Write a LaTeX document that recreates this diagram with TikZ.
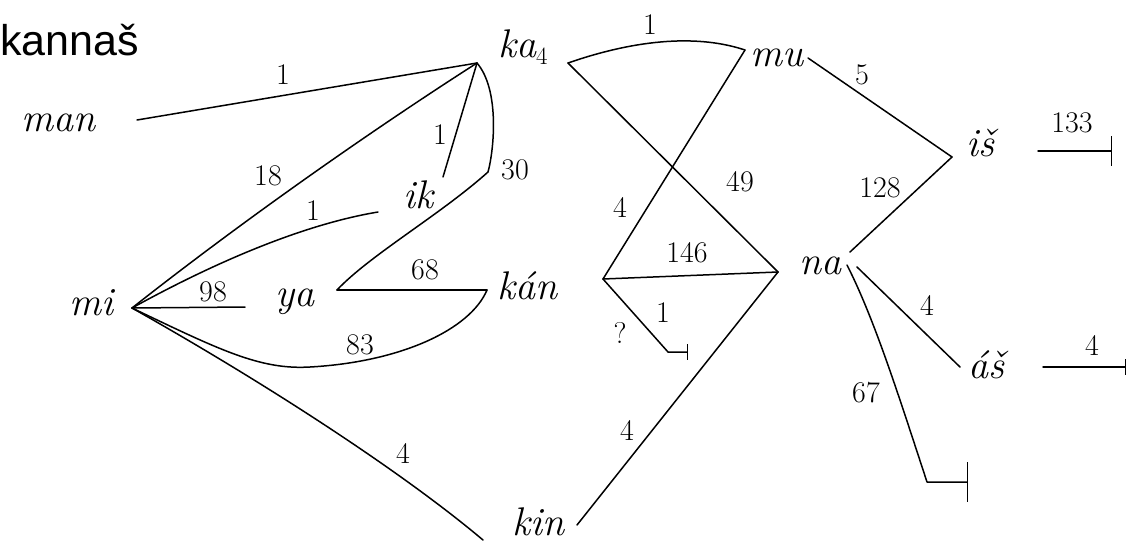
\documentclass[tikz,border=0pt]{standalone}
\usepackage{fontspec}
\newfontfamily\headfont{Liberation Sans}
\usetikzlibrary{arrows.meta}
\tikzset{
  word/.style={font=\fontsize{40}{40}\selectfont\itshape, inner sep=0pt},
  num/.style={font=\fontsize{30}{30}\selectfont, inner sep=0pt},
  edge/.style={line width=1.5pt, line cap=round, line join=round},
  stub/.style={edge, -{Bar[width=#1, line width=1.5pt]}},
}
\begin{document}
\begin{tikzpicture}[x=1pt, y=-1pt]
    \useasboundingbox (0,0) rectangle (1127,552);
    % title
    \node[font=\headfont\fontsize{43}{43}\selectfont, anchor=base west, inner sep=0pt] (title) at (0,55) {kannaš};
    % words
    \node[word] (man) at (58,123) {man};
    \node[word] (mi) at (91,303) {mi};
    \node[word] (ik) at (418,195) {ik};
    \node[word] (ya) at (295,302) {ya};
    \node[word] (ka) at (523,47) {ka$_4$};
    \node[word] (kan) at (527,286) {kán};
    \node[word] (mu) at (777,58) {mu};
    \node[word] (na) at (820,266) {na};
    \node[word] (is) at (980,143) {iš};
    \node[word] (as) at (986,365) {áš};
    \node[word] (kin) at (538,522) {kin};
    % ports
    \coordinate (man-p) at (137,120);
    \coordinate (mi-p) at (132,308);
    \coordinate (ka-l) at (477,63);
    \coordinate (ka-r) at (568,63);
    \coordinate (ik-l) at (378,212);
    \coordinate (ik-r) at (443,177);
    \coordinate (ya-l) at (337,290);
    \coordinate (ya-e) at (245,307);
    \coordinate (kan-l) at (487,290);
    \coordinate (kan-r) at (603,279);
    \coordinate (mu-l) at (745,50);
    \coordinate (mu-r) at (808,58);
    \coordinate (na-l) at (778,272);
    \coordinate (na-r) at (850,252);
    \coordinate (na-s) at (857,267);
    \coordinate (na-b) at (847,265);
    \coordinate (is-l) at (952,157);
    \coordinate (as-l) at (960,367);
    \coordinate (kin-l) at (483,540);
    \coordinate (kin-r) at (577,525);
    % free ends
    \coordinate (kan-e) at (668,352);
    \coordinate (kan-t) at (688,352);
    \coordinate (is-s) at (1038,151);
    \coordinate (is-t) at (1112,151);
    \coordinate (as-s) at (1043,367);
    \coordinate (as-t) at (1126,367);
    \coordinate (na-e) at (927,482);
    \coordinate (na-t) at (968,482);
    % left part
    \draw[edge] (man-p) -- (ka-l);
    \draw[edge] (mi-p) .. controls (250,215) and (380,125) .. (ka-l);
    \draw[edge] (mi-p) .. controls (210,265) and (300,225) .. (ik-l);
    \draw[edge] (ik-r) -- (ka-l);
    \draw[edge] (ka-l) .. controls (500,90) and (494,150) .. (488,172)
        .. controls (440,215) and (370,255) .. (ya-l);
    \draw[edge] (ya-l) -- (kan-l);
    \draw[edge] (mi-p) -- (ya-e);
    \draw[edge] (mi-p) .. controls (220,350) and (260,370) .. (310,367)
        .. controls (400,362) and (470,330) .. (kan-l);
    \draw[edge] (mi-p) .. controls (260,380) and (400,470) .. (kin-l);
    % middle part
    \draw[edge] (ka-r) .. controls (640,38) and (700,35) .. (mu-l);
    \draw[edge] (ka-r) -- (na-l);
    \draw[edge] (kan-r) -- (mu-l);
    \draw[edge] (kan-r) -- (na-l);
    \draw[stub=16pt] (kan-r) -- (kan-e) -- (kan-t);
    \draw[edge] (kin-r) -- (na-l);
    % right part
    \draw[edge] (mu-r) -- (is-l);
    \draw[edge] (na-r) -- (is-l);
    \draw[edge] (na-s) -- (as-l);
    \draw[stub=40pt] (na-b) .. controls (875,320) and (900,400) .. (na-e) -- (na-t);
    \draw[stub=30pt] (is-s) -- (is-t);
    \draw[stub=16pt] (as-s) -- (as-t);
    % counts
    \node[num] (n-man) at (283,75) {1};
    \node[num] (n-mika) at (268,176) {18};
    \node[num] (n-miik) at (313,211) {1};
    \node[num] (n-ikka) at (440,135) {1};
    \node[num] (n-yaka) at (515,170) {30};
    \node[num] (n-miya) at (213,292) {98};
    \node[num] (n-yakan) at (425,270) {68};
    \node[num] (n-mikan) at (360,345) {83};
    \node[num] (n-mikin) at (403,453) {4};
    \node[num] (n-kamu) at (650,25) {1};
    \node[num] (n-kana) at (740,182) {49};
    \node[num] (n-kanmu) at (620,207) {4};
    \node[num] (n-kanna) at (687,253) {146};
    \node[num] (n-kane) at (663,313) {1};
    \node[num] (n-q) at (620,333) {?};
    \node[num] (n-kinna) at (627,430) {4};
    \node[num] (n-muis) at (862,75) {5};
    \node[num] (n-nais) at (880,188) {128};
    \node[num] (n-is) at (1072,123) {133};
    \node[num] (n-naas) at (927,305) {4};
    \node[num] (n-as) at (1092,345) {4};
    \node[num] (n-nae) at (866,393) {67};
\end{tikzpicture}
\end{document}
